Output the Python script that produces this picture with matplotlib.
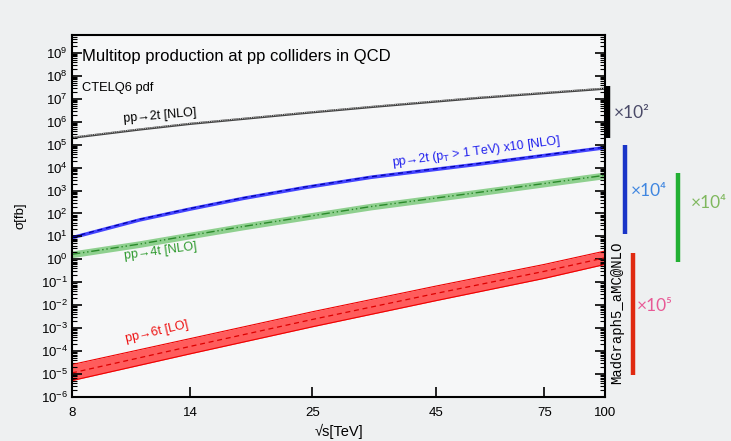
import numpy as np
import matplotlib
matplotlib.use("Agg")
import matplotlib.pyplot as plt
from matplotlib.ticker import LogLocator, LogFormatterMathtext, FixedLocator, NullLocator, NullFormatter
from matplotlib.lines import Line2D

plt.rcParams["font.family"] = ["Liberation Sans", "DejaVu Sans"]
plt.rcParams["mathtext.default"] = "regular"

# values (sigma in fb)
e_tt = [8, 11, 14, 18, 24, 33, 55, 100]
tt = [2.1e5, 4.8e5, 8.5e5, 1.4e6, 2.5e6, 4.6e6, 1.15e7, 2.9e7]

e_ttpt = [8, 11, 14, 18, 24, 33, 55, 100]
ttpt = [9.3, 55, 165, 480, 1400, 4000, 1.5e4, 7.8e4]

e_4t = [8, 11, 14, 18, 24, 33, 55, 100]
t4 = [1.66, 4.6, 11, 27, 70, 200, 830, 4600]

e_6t = [8, 14, 25, 45, 75, 100]
t6 = [1.12e-5, 1.6e-4, 2.4e-3, 3.3e-2, 0.30, 1.17]
t6_lo = [5.2e-6, 7.6e-5, 1.15e-3, 1.6e-2, 0.148, 0.60]
t6_hi = [2.6e-5, 3.5e-4, 5.2e-3, 6.9e-2, 0.60, 2.3]

# relative band widths (scale uncertainty)
tt_band = 1.12
ttpt_band = 1.2
t4_band = 1.4

xticks = [8, 14, 25, 45, 75, 100]

fig = plt.figure(figsize=(7.31, 4.41), dpi=100, facecolor="#eef0f1")
ax = fig.add_axes([0.0985, 0.0998, 0.7291, 0.8208], facecolor="#f6f7f8")

ax.set_xscale("log")
ax.set_yscale("log")

# 2t NLO
tt_a = np.array(tt)
ax.fill_between(e_tt, tt_a / tt_band, tt_a * tt_band, color="#444444", lw=0)
ax.plot(e_tt, tt_a, color="#bbbbbb", lw=0.8, ls=(0, (1, 1)))

# 2t pT > 1 TeV x10
ttpt_a = np.array(ttpt)
ax.fill_between(e_ttpt, ttpt_a / ttpt_band, ttpt_a * ttpt_band, color="#4444ff", lw=0)
ax.plot(e_ttpt, ttpt_a, color="#0000aa", lw=0.9, ls=(0, (4, 3)))

# 4t NLO
t4_a = np.array(t4)
ax.fill_between(e_4t, t4_a / t4_band, t4_a * t4_band, color="#8fd08f", lw=0)
ax.plot(e_4t, t4_a, color="#2a8a2a", lw=1.0, ls=(0, (6, 2, 1, 2, 1, 2)))

# 6t LO
ax.fill_between(e_6t, t6_lo, t6_hi, color="#ff5c5c", lw=0)
ax.plot(e_6t, t6_lo, color="#ee0000", lw=0.8)
ax.plot(e_6t, t6_hi, color="#ee0000", lw=0.8)
ax.plot(e_6t, t6, color="#dd0000", lw=0.9, ls=(0, (4, 3)))

ax.set_xlim(8, 100)
ax.set_ylim(1e-6, 6e9)

ax.xaxis.set_major_locator(FixedLocator(xticks))
ax.xaxis.set_major_formatter(plt.FixedFormatter([str(v) for v in xticks]))
ax.xaxis.set_minor_locator(NullLocator())
ax.xaxis.set_minor_formatter(NullFormatter())

ax.yaxis.set_major_locator(LogLocator(base=10, numticks=30))
ax.yaxis.set_major_formatter(LogFormatterMathtext())
ax.yaxis.set_minor_locator(LogLocator(base=10, subs=np.arange(2, 10), numticks=30))
ax.yaxis.set_minor_formatter(NullFormatter())

ax.tick_params(axis="x", which="major", direction="in", length=7, width=1.2,
               labelsize=9.5, pad=7, top=False)
ax.tick_params(axis="y", which="major", direction="in", length=7, width=1.2,
               labelsize=9.5, pad=3, left=True, right=True)
ax.tick_params(axis="y", which="minor", direction="in", length=3.5, width=0.8,
               left=True, right=True)
for s in ax.spines.values():
    s.set_linewidth(1.5)

ax.set_xlabel("√s[TeV]", fontsize=10.5)
ax.xaxis.set_label_coords(0.5, -0.075)
ax.set_ylabel("σ[fb]", fontsize=9.5)
ax.yaxis.set_label_coords(-0.085, 0.5)

ax.text(0.019, 0.962, "Multitop production at pp colliders in QCD",
        transform=ax.transAxes, fontsize=12, va="top", ha="left")
ax.text(0.019, 0.87, "CTELQ6 pdf", transform=ax.transAxes,
        fontsize=9.3, va="top", ha="left")

# curve labels
ax.text(0.165, 0.776, "pp→2t [NLO]", transform=ax.transAxes,
        fontsize=9, rotation=5, ha="center", va="center")
ax.text(0.758, 0.677, "pp→2t (p$_T$ > 1 TeV) x10 [NLO]",
        transform=ax.transAxes, fontsize=9, rotation=7.5, ha="center",
        va="center", color="#2222ee")
ax.text(0.167, 0.403, "pp→4t [NLO]", transform=ax.transAxes, fontsize=9,
        rotation=7.5, ha="center", va="center", color="#2f9a2f")
ax.text(0.16, 0.18, "pp→6t [LO]", transform=ax.transAxes, fontsize=9,
        rotation=13, ha="center", va="center", color="#ee1111")

fig.text(616.7 / 731, 1 - 312.5 / 441, "MadGraph5_aMC@NLO", rotation=90,
         family=["Liberation Mono", "DejaVu Sans Mono"], fontsize=10,
         ha="center", va="center")

# scaling markers to the right of the frame (pixel positions of the slide)
def bar(x, y0, y1, color):
    fig.add_artist(Line2D([x / 731, x / 731], [1 - y0 / 441, 1 - y1 / 441],
                          transform=fig.transFigure, color=color, lw=3.2,
                          solid_capstyle="butt"))

def tag(x, y, s, color):
    fig.text(x / 731, 1 - y / 441, s, color=color, fontsize=12.5,
             family=["Lato", "DejaVu Sans"], ha="left", va="center")

bar(608.3, 85.7, 138.3, "#000000")
tag(614, 113, "×10²", "#4a4a68")
bar(625, 145, 234, "#1a35c8")
tag(631, 191, "×10⁴", "#3f86e0")
bar(678.3, 172.7, 261.7, "#22b033")
tag(691, 203, "×10⁴", "#7fb85e")
bar(633.3, 252.7, 375, "#e02a10")
tag(637, 306, "×10⁵", "#e85a96")

fig.savefig("out.png", dpi=100, facecolor=fig.get_facecolor())
